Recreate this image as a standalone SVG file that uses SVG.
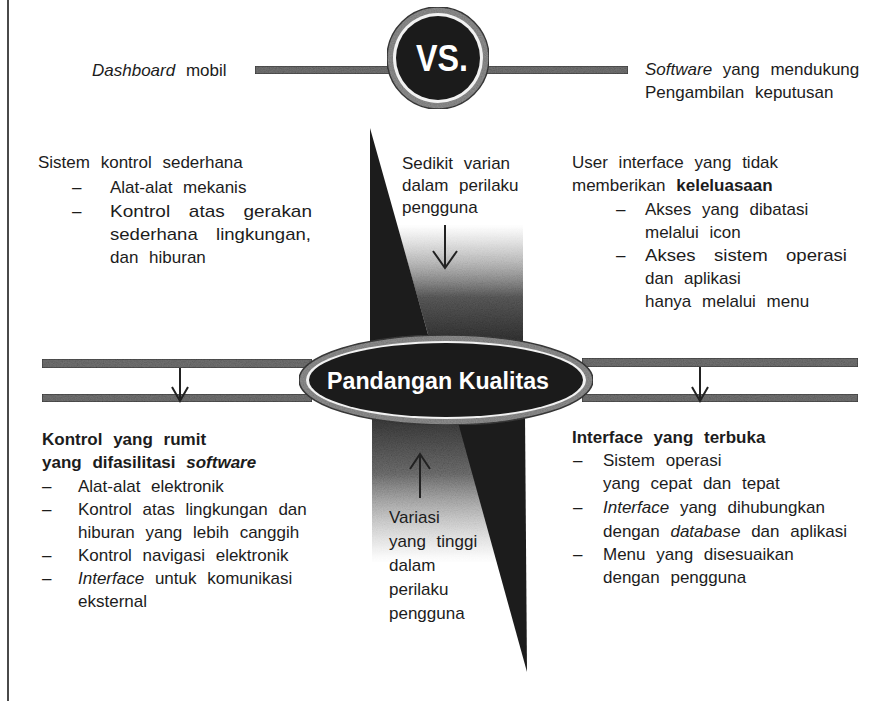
<svg xmlns="http://www.w3.org/2000/svg" width="882" height="701" viewBox="0 0 882 701">
<defs>
<style>
.t{font-family:"Liberation Sans",Arial,sans-serif;font-size:17px;fill:#1c1c1c;word-spacing:6px}
.j{word-spacing:12px}
.b{font-weight:bold}
.i{font-style:italic}
.w{font-family:"Liberation Sans",Arial,sans-serif;font-weight:bold;fill:#ffffff}
.bar{fill:#6e6e6e;stroke:#3c3c3c;stroke-width:1.2}
.arr{fill:none;stroke:#222;stroke-width:2}
</style>
<linearGradient id="gUp" gradientUnits="userSpaceOnUse" x1="0" y1="225" x2="0" y2="345">
<stop offset="0" stop-color="#9a9a9a" stop-opacity="0"/>
<stop offset="0.3" stop-color="#8a8a8a" stop-opacity="0.55"/>
<stop offset="0.6" stop-color="#5a5a5a" stop-opacity="1"/>
<stop offset="1" stop-color="#2e2e2e" stop-opacity="1"/>
</linearGradient>
<linearGradient id="gDown" gradientUnits="userSpaceOnUse" x1="0" y1="415" x2="0" y2="562">
<stop offset="0" stop-color="#363636" stop-opacity="1"/>
<stop offset="0.4" stop-color="#6e6e6e" stop-opacity="1"/>
<stop offset="0.75" stop-color="#9a9a9a" stop-opacity="0.45"/>
<stop offset="1" stop-color="#aaaaaa" stop-opacity="0"/>
</linearGradient>
<filter id="grain" x="0" y="0" width="100%" height="100%">
<feTurbulence type="fractalNoise" baseFrequency="0.85" numOctaves="2" seed="4" result="n"/>
<feColorMatrix in="n" type="matrix" values="0.33 0.33 0.33 0 0  0.33 0.33 0.33 0 0  0.33 0.33 0.33 0 0  0 0 0 0 1" result="g"/>
<feComponentTransfer in="g" result="gl">
<feFuncR type="linear" slope="0.9" intercept="0.45"/>
<feFuncG type="linear" slope="0.9" intercept="0.45"/>
<feFuncB type="linear" slope="0.9" intercept="0.45"/>
</feComponentTransfer>
<feComposite in="gl" in2="SourceGraphic" operator="arithmetic" k1="1" k2="0" k3="0" k4="0"/>
</filter>
</defs>
<rect width="882" height="701" fill="#ffffff"/>
<line x1="8" y1="0" x2="8" y2="701" stroke="#4a4a4a" stroke-width="2"/>

<g id="central-band">
<polygon points="397,225 523,225 523,345 431,345" fill="url(#gUp)" filter="url(#grain)"/>
<polygon points="370,128 370,345 431,345" fill="#1c1c1c"/>
<polygon points="372,415 458,415 498,562 372,562" fill="url(#gDown)" filter="url(#grain)"/>
<polygon points="456,415 525,415 527,672" fill="#1c1c1c"/>
</g>

<g id="bars">
<rect class="bar" x="255" y="66" width="140" height="8" filter="url(#grain)"/>
<rect class="bar" x="485" y="66" width="143" height="8" filter="url(#grain)"/>
<rect class="bar" x="42" y="359" width="270" height="9" filter="url(#grain)"/>
<rect class="bar" x="42" y="394" width="270" height="8" filter="url(#grain)"/>
<rect class="bar" x="582" y="358" width="276" height="9" filter="url(#grain)"/>
<rect class="bar" x="582" y="394" width="276" height="8" filter="url(#grain)"/>
</g>

<g id="connectors">
<path class="arr" d="M180,368 V401 M172,387 L180,401 L188,387"/>
<path class="arr" d="M700,367 V401 M692,387 L700,401 L708,387"/>
<path class="arr" d="M445,225 V268 M433,251 L445,268 L457,251"/>
<path class="arr" d="M420,454 V498 M410,469 L420,454 L430,469"/>
</g>

<g id="vs">
<circle cx="438" cy="58" r="51" fill="#8a8a8a" stroke="#3a3a3a" stroke-width="1.5" filter="url(#grain)"/>
<circle cx="438" cy="58" r="45" fill="#f2f2f2"/>
<circle cx="438" cy="58" r="42" fill="#1b1b1b"/>
<text class="w" x="442" y="71" font-size="37" text-anchor="middle" textLength="52" lengthAdjust="spacingAndGlyphs">VS.</text>
</g>

<g id="pandangan-kualitas">
<ellipse cx="446" cy="380" rx="147" ry="45" fill="#8a8a8a" stroke="#3a3a3a" stroke-width="1.5" filter="url(#grain)"/>
<ellipse cx="446" cy="380" rx="140" ry="39" fill="#f2f2f2"/>
<ellipse cx="446" cy="380" rx="137" ry="37" fill="#1b1b1b"/>
<text class="w" x="438" y="389" font-size="23" text-anchor="middle" textLength="222" lengthAdjust="spacingAndGlyphs">Pandangan Kualitas</text>
</g>

<g id="dashboard-mobil">
<text class="t" x="92" y="76"><tspan class="i">Dashboard</tspan> mobil</text>
</g>

<g id="software-keputusan">
<text class="t" x="645" y="75"><tspan class="i">Software</tspan> yang mendukung</text>
<text class="t" x="645" y="98">Pengambilan keputusan</text>
</g>

<g id="sistem-kontrol-sederhana">
<text class="t" x="38" y="168">Sistem kontrol sederhana</text>
<text class="t" x="72" y="193">–</text>
<text class="t" x="110" y="193">Alat-alat mekanis</text>
<text class="t" x="72" y="217">–</text>
<text class="t j" x="110" y="217" textLength="202" lengthAdjust="spacingAndGlyphs">Kontrol atas gerakan</text>
<text class="t j" x="110" y="240" textLength="201" lengthAdjust="spacingAndGlyphs">sederhana lingkungan,</text>
<text class="t" x="110" y="263">dan hiburan</text>
</g>

<g id="sedikit-varian">
<text class="t" x="402" y="169">Sedikit varian</text>
<text class="t" x="402" y="191">dalam perilaku</text>
<text class="t" x="402" y="213">pengguna</text>
</g>

<g id="user-interface">
<text class="t" x="572" y="168">User interface yang tidak</text>
<text class="t" x="572" y="191">memberikan <tspan class="b">keleluasaan</tspan></text>
<text class="t" x="616" y="215">–</text>
<text class="t" x="645" y="215">Akses yang dibatasi</text>
<text class="t" x="645" y="238">melalui icon</text>
<text class="t" x="616" y="261">–</text>
<text class="t j" x="645" y="261" textLength="202" lengthAdjust="spacingAndGlyphs">Akses sistem operasi</text>
<text class="t" x="645" y="284">dan aplikasi</text>
<text class="t" x="645" y="307">hanya melalui menu</text>
</g>

<g id="kontrol-rumit">
<text class="t b" x="42" y="445">Kontrol yang rumit</text>
<text class="t b" x="42" y="468">yang difasilitasi <tspan class="i">software</tspan></text>
<text class="t" x="42" y="492">–</text>
<text class="t" x="78" y="492">Alat-alat elektronik</text>
<text class="t" x="42" y="515">–</text>
<text class="t" x="78" y="515">Kontrol atas lingkungan dan</text>
<text class="t" x="78" y="538">hiburan yang lebih canggih</text>
<text class="t" x="42" y="561">–</text>
<text class="t" x="78" y="561">Kontrol navigasi elektronik</text>
<text class="t" x="42" y="584">–</text>
<text class="t" x="78" y="584"><tspan class="i">Interface</tspan> untuk komunikasi</text>
<text class="t" x="78" y="607">eksternal</text>
</g>

<g id="variasi-tinggi">
<text class="t" x="389" y="523">Variasi</text>
<text class="t" x="389" y="547">yang tinggi</text>
<text class="t" x="389" y="571">dalam</text>
<text class="t" x="389" y="595">perilaku</text>
<text class="t" x="389" y="619">pengguna</text>
</g>

<g id="interface-terbuka">
<text class="t b" x="572" y="443">Interface yang terbuka</text>
<text class="t" x="573" y="466">–</text>
<text class="t" x="603" y="466">Sistem operasi</text>
<text class="t" x="603" y="489">yang cepat dan tepat</text>
<text class="t" x="573" y="513">–</text>
<text class="t" x="603" y="513"><tspan class="i">Interface</tspan> yang dihubungkan</text>
<text class="t" x="603" y="537">dengan <tspan class="i">database</tspan> dan aplikasi</text>
<text class="t" x="573" y="560">–</text>
<text class="t" x="603" y="560">Menu yang disesuaikan</text>
<text class="t" x="603" y="583">dengan pengguna</text>
</g>
</svg>
